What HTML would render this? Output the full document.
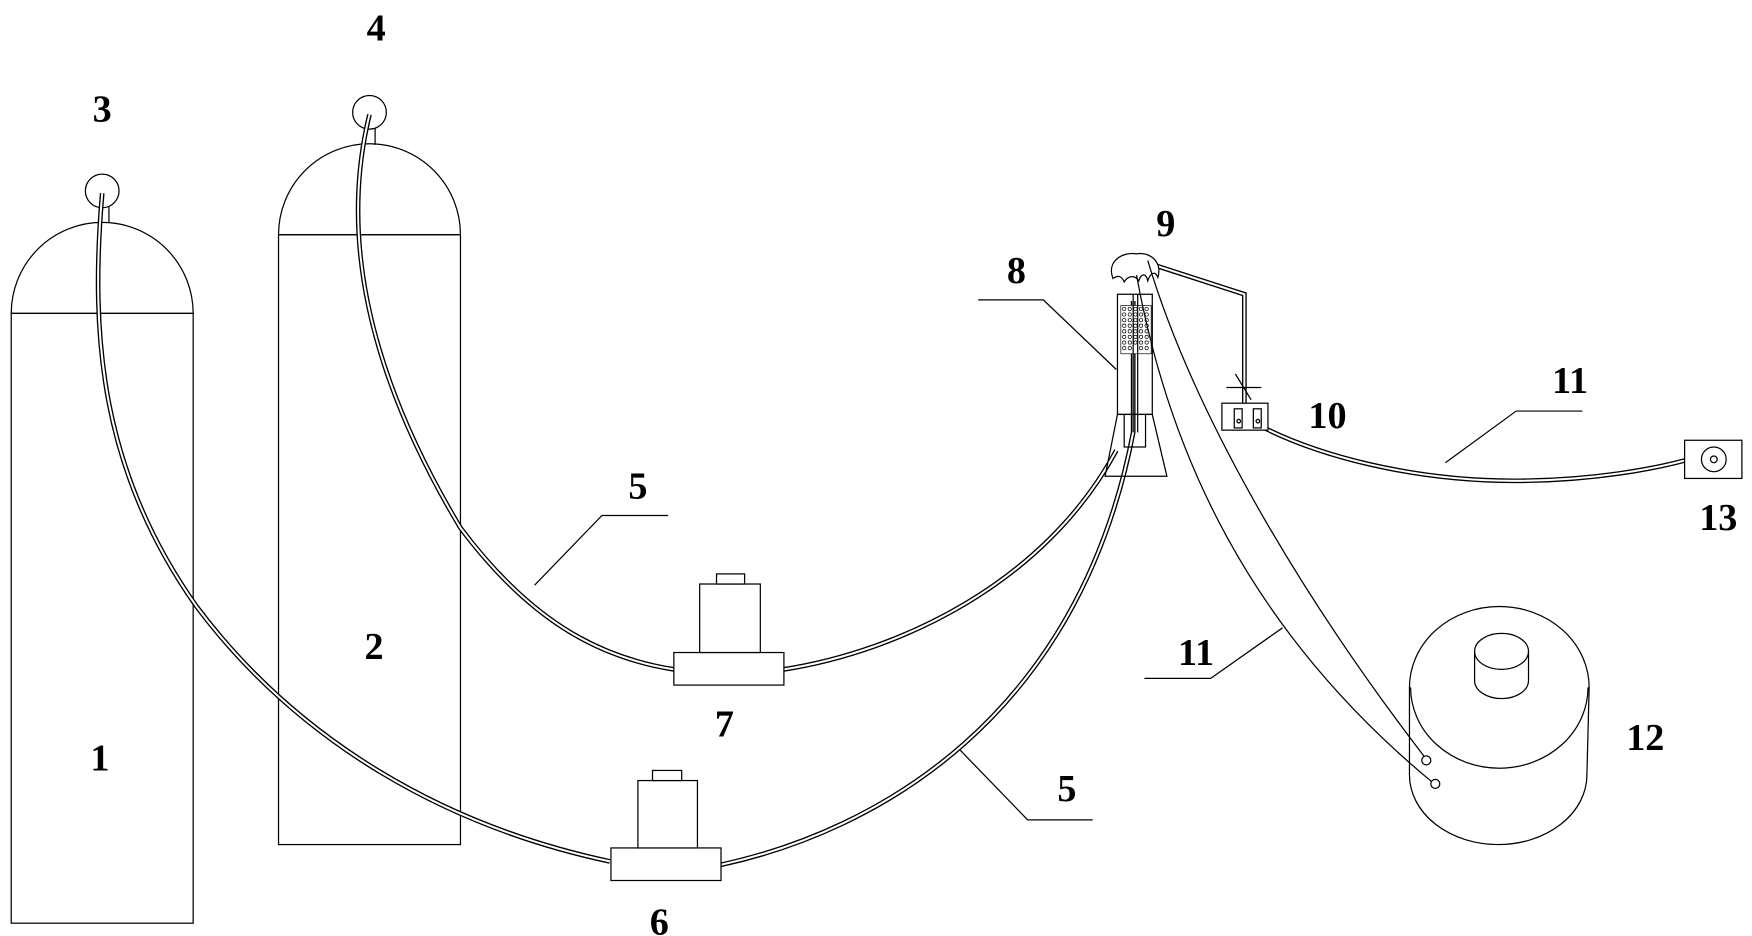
<!DOCTYPE html>
<html><head><meta charset="utf-8"><style>
html,body{margin:0;padding:0;background:#fff;}
svg{display:block;}
text{font-family:"Liberation Serif",serif;font-weight:bold;font-size:34px;fill:#000;text-anchor:middle;}
</style></head><body>
<svg width="1752" height="936" viewBox="0 0 1560 833.4" xmlns="http://www.w3.org/2000/svg">
<defs>
<style>
.s{fill:none;stroke:#000;stroke-width:1.1;}
.to{fill:none;stroke:#000;stroke-width:4.2;}
.ti{fill:none;stroke:#fff;stroke-width:1.8;}
</style>
<path id="t1" fill="none" d="M91,172 C80,300 90,420 175,540 C250,640 370,730 543,767"/>
<path id="t2" fill="none" d="M329,102 C305,200 320,320 410,470 C470,550 530,585 600,596"/>
<path id="t3" fill="none" d="M698,596 C800,580 930,520 994,401"/>
<path id="t4" fill="none" d="M642,770 C780,740 960,640 1009,385 L1009,268"/>
<path id="t5" fill="none" d="M1009,230 L1108,262 L1108,359"/>
<path id="t6" fill="none" d="M1118,377 C1170,405 1260,430 1360,428 C1420,427 1470,418 1500,410"/>
<path id="t7" fill="none" d="M1022,232 C1060,360 1150,520 1270,676"/>
<path id="t8" fill="none" d="M1012,245 C1040,400 1110,560 1276,697"/>
</defs>
<!-- cylinder 1 -->
<path class="s" d="M10,279 A81,81 0 0 1 172,279 Z"/>
<rect class="s" x="10" y="279" width="162" height="543"/>
<!-- cylinder 2 -->
<path class="s" d="M248,209 A81,81 0 0 1 410,209 Z"/>
<rect class="s" x="248" y="209" width="162" height="543"/>
<!-- valves -->
<circle class="s" cx="91" cy="170" r="15"/>
<line class="s" x1="97" y1="184" x2="97" y2="198"/>
<circle class="s" cx="329" cy="100" r="15"/>
<line class="s" x1="334" y1="114" x2="334" y2="129"/>

<g class="to">
<use href="#t1"/><use href="#t2"/><use href="#t3"/><use href="#t4"/><use href="#t5"/><use href="#t6"/>
</g>
<g class="ti">
<use href="#t1"/><use href="#t2"/><use href="#t3"/><use href="#t4"/><use href="#t5"/><use href="#t6"/>
</g>

<!-- device 7 -->
<rect class="s" x="600" y="581" width="98" height="29" fill="#fff" style="fill:#fff"/>
<rect class="s" x="623" y="520" width="54" height="61" style="fill:#fff"/>
<rect class="s" x="638" y="511" width="25" height="9" style="fill:#fff"/>
<!-- device 6 -->
<rect class="s" x="544" y="755" width="98" height="29" style="fill:#fff"/>
<rect class="s" x="568" y="695" width="53" height="60" style="fill:#fff"/>
<rect class="s" x="581" y="686" width="26" height="9" style="fill:#fff"/>

<!-- device 8 -->
<rect class="s" x="995" y="262" width="31" height="107"/>
<rect x="998" y="272" width="27" height="43" fill="#fff" stroke="#000" stroke-width="0.6"/>
<g fill="none" stroke="#000" stroke-width="0.6">
<circle cx="1001" cy="275" r="1.5"/><circle cx="1006" cy="275" r="1.5"/><circle cx="1011" cy="275" r="1.5"/><circle cx="1016" cy="275" r="1.5"/><circle cx="1021" cy="275" r="1.5"/>
<circle cx="1001" cy="280" r="1.5"/><circle cx="1006" cy="280" r="1.5"/><circle cx="1011" cy="280" r="1.5"/><circle cx="1016" cy="280" r="1.5"/><circle cx="1021" cy="280" r="1.5"/>
<circle cx="1001" cy="285" r="1.5"/><circle cx="1006" cy="285" r="1.5"/><circle cx="1011" cy="285" r="1.5"/><circle cx="1016" cy="285" r="1.5"/><circle cx="1021" cy="285" r="1.5"/>
<circle cx="1001" cy="290" r="1.5"/><circle cx="1006" cy="290" r="1.5"/><circle cx="1011" cy="290" r="1.5"/><circle cx="1016" cy="290" r="1.5"/><circle cx="1021" cy="290" r="1.5"/>
<circle cx="1001" cy="295" r="1.5"/><circle cx="1006" cy="295" r="1.5"/><circle cx="1011" cy="295" r="1.5"/><circle cx="1016" cy="295" r="1.5"/><circle cx="1021" cy="295" r="1.5"/>
<circle cx="1001" cy="300" r="1.5"/><circle cx="1006" cy="300" r="1.5"/><circle cx="1011" cy="300" r="1.5"/><circle cx="1016" cy="300" r="1.5"/><circle cx="1021" cy="300" r="1.5"/>
<circle cx="1001" cy="305" r="1.5"/><circle cx="1006" cy="305" r="1.5"/><circle cx="1011" cy="305" r="1.5"/><circle cx="1016" cy="305" r="1.5"/><circle cx="1021" cy="305" r="1.5"/>
<circle cx="1001" cy="310" r="1.5"/><circle cx="1006" cy="310" r="1.5"/><circle cx="1016" cy="310" r="1.5"/><circle cx="1021" cy="310" r="1.5"/>
</g>
<line class="s" x1="1009" y1="262" x2="1009" y2="385"/>
<line class="s" x1="1013" y1="262" x2="1013" y2="385"/>
<path class="s" d="M995,369 L1026,369 L1039,424 L984,424 Z"/>
<path class="s" d="M1001,369 L1001,398 L1020,398 L1020,369"/>
<!-- nozzle 9 -->
<path class="s" style="fill:#fff" d="M991,248 C985,232 1000,224 1012,226 C1025,224 1035,234 1031,247 C1028,240 1024,244 1022,250 C1020,242 1016,244 1014,250 C1010,244 1004,246 1001,251 C998,244 994,246 991,248 Z"/>
<use href="#t7" class="s"/><use href="#t8" class="s"/>
<!-- valve cross above 10 -->
<line class="s" x1="1092" y1="345" x2="1123" y2="345"/>
<line class="s" x1="1100" y1="333" x2="1114" y2="356"/>
<!-- device 10 -->
<rect class="s" x="1088" y="359" width="41" height="24" style="fill:#fff"/>
<rect class="s" x="1099" y="364" width="7" height="17"/>
<rect class="s" x="1116" y="364" width="7" height="17"/>
<circle class="s" cx="1103" cy="375" r="1.6"/><circle class="s" cx="1120" cy="375" r="1.6"/>
<!-- device 13 -->
<rect class="s" x="1500" y="392" width="51" height="34" style="fill:#fff"/>
<circle class="s" cx="1526" cy="409" r="11"/>
<circle class="s" cx="1526" cy="409" r="3"/>
<!-- device 12 -->
<path class="s" d="M1255,612 A80,72 0 0 1 1415,612 L1413,690 A79,62 0 0 1 1255,690 Z"/>
<path class="s" d="M1256,612 A79,72 0 0 0 1414,612"/>
<path class="s" d="M1313,580 A24,16 0 0 1 1361,580 L1361,606 A24,16 0 0 1 1313,606 Z"/>
<path class="s" d="M1313,580 A24,16 0 0 0 1361,580"/>
<circle class="s" cx="1270" cy="677" r="4" style="fill:#fff"/>
<circle class="s" cx="1278" cy="698" r="4" style="fill:#fff"/>

<!-- leaders -->
<polyline class="s" points="476,521 536,459 595,459"/>
<polyline class="s" points="855,668 915,730 973,730"/>
<polyline class="s" points="994,329 929,267 871,267"/>
<polyline class="s" points="1287,412 1350,366 1409,366"/>
<polyline class="s" points="1142,559 1078,604 1019,604"/>

<!-- labels -->
<text x="89" y="686">1</text>
<text x="333" y="587">2</text>
<text x="91" y="108">3</text>
<text x="335" y="36">4</text>
<text x="568" y="444">5</text>
<text x="950" y="713">5</text>
<text x="587" y="832">6</text>
<text x="645" y="656">7</text>
<text x="905" y="252">8</text>
<text x="1038" y="210">9</text>
<text x="1182" y="381">10</text>
<text x="1398" y="350">11</text>
<text x="1065" y="592">11</text>
<text x="1465" y="668">12</text>
<text x="1530" y="472">13</text>
</svg>
</body></html>
